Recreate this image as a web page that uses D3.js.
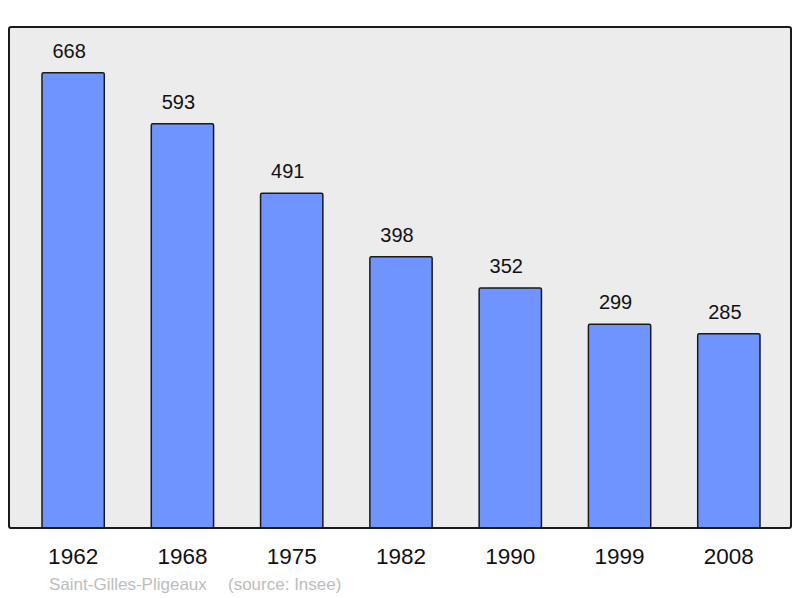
<!DOCTYPE html>
<html>
<head>
<meta charset="utf-8">
<script src="https://cdn.jsdelivr.net/npm/d3@7"></script>
<style>
  body { margin: 0; background: #fff; }
  svg { display: block; font-family: "Liberation Sans", Arial, sans-serif; }
</style>
</head>
<body>
<svg width="800" height="598"></svg>
<script>
const years = ['1962', '1968', '1975', '1982', '1990', '1999', '2008'];
const population = [668, 593, 491, 398, 352, 299, 285];
const commune = 'Saint-Gilles-Pligeaux';
const source = '(source: Insee)';

const data = years.map((year, i) => ({ year, population: population[i] }));

const svg = d3.select('svg');
const frame = { left: 9, top: 27, right: 791, bottom: 528 };

const xScale = d3.scaleBand()
  .domain(years)
  .range([18.5, 783.5])
  .paddingInner(0.43)
  .paddingOuter(0.215);

const yScale = d3.scaleLinear()
  .domain([0, 735])
  .range([frame.bottom, frame.top]);

// plot background
svg.append('rect')
  .attr('x', frame.left)
  .attr('y', frame.top)
  .attr('width', frame.right - frame.left)
  .attr('height', frame.bottom - frame.top)
  .attr('rx', 2)
  .attr('fill', '#ececec');

// bars
svg.append('g')
  .selectAll('rect.bar')
  .data(data)
  .enter()
  .append('rect')
    .attr('class', 'bar')
    .attr('x', d => xScale(d.year))
    .attr('y', d => yScale(d.population))
    .attr('width', xScale.bandwidth())
    .attr('height', d => yScale(0) - yScale(d.population))
    .attr('rx', 1.5)
    .attr('fill', '#7094ff')
    .attr('stroke', '#1a1a1a')
    .attr('stroke-width', 1.5);

// value labels (sit a little left of bar centre in the original)
svg.append('g')
  .selectAll('text')
  .data(data)
  .enter()
  .append('text')
    .attr('x', d => xScale(d.year) + xScale.bandwidth() / 2 - 4)
    .attr('y', d => yScale(d.population) - 15)
    .attr('text-anchor', 'middle')
    .attr('font-size', 20)
    .attr('fill', '#111')
    .text(d => d.population);

// frame border on top
svg.append('rect')
  .attr('x', frame.left)
  .attr('y', frame.top)
  .attr('width', frame.right - frame.left)
  .attr('height', frame.bottom - frame.top)
  .attr('rx', 2)
  .attr('fill', 'none')
  .attr('stroke', '#1a1a1a')
  .attr('stroke-width', 2);

// year axis
const xAxis = d3.axisBottom(xScale).tickSize(0).tickPadding(20);
const xAxisGroup = svg.append('g')
  .attr('transform', `translate(0, ${frame.bottom})`)
  .call(xAxis);
xAxisGroup.select('.domain').remove();
xAxisGroup.selectAll('text')
  .attr('font-size', 22.5)
  .attr('font-family', '"Liberation Sans", Arial, sans-serif')
  .attr('fill', '#111')
  .attr('dy', null)
  .attr('y', 36);

// footer
svg.append('text')
  .attr('x', 49)
  .attr('y', 590)
  .attr('font-size', 17)
  .attr('fill', '#bdbdbd')
  .text(commune);
svg.append('text')
  .attr('x', 228)
  .attr('y', 590)
  .attr('font-size', 17)
  .attr('fill', '#bdbdbd')
  .text(source);
</script>
</body>
</html>
